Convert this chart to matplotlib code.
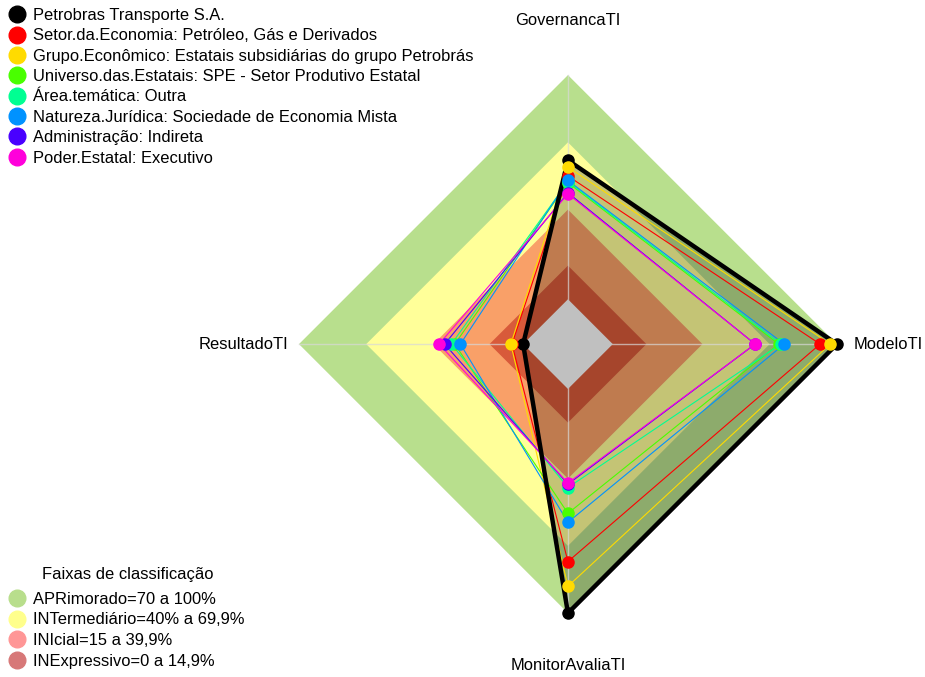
import numpy as np
import matplotlib
matplotlib.use("Agg")
import matplotlib.pyplot as plt
from matplotlib.lines import Line2D

plt.rcParams["font.family"] = ["Liberation Sans", "DejaVu Sans"]

# axes, clockwise from the top
categories = ["GovernancaTI", "ModeloTI", "MonitorAvaliaTI", "ResultadoTI"]

series_names = [
    "Petrobras Transporte S.A.",
    "Setor.da.Economia: Petróleo, Gás e Derivados",
    "Grupo.Econômico: Estatais subsidiárias do grupo Petrobrás",
    "Universo.das.Estatais: SPE - Setor Produtivo Estatal",
    "Área.temática: Outra",
    "Natureza.Jurídica: Sociedade de Economia Mista",
    "Administração: Indireta",
    "Poder.Estatal: Executivo",
]
series_colors = ["#000000", "#FF0000", "#FFDB00", "#49FF00",
                 "#00FF92", "#0092FF", "#4900FF", "#FF00DB"]

# values in %: Governanca, Modelo, MonitorAvalia, Resultado
petrobras_transporte = [62, 100, 100, 0]
setor_economia = [55, 92.5, 77, 5]
grupo_economico = [59, 97, 88, 5.5]
universo_estatais = [52, 74, 55.5, 30.5]
area_tematica = [52.5, 75, 44, 32]
natureza_juridica = [53, 76.5, 59.5, 28]
administracao = [47.5, 63.5, 42.5, 35]
poder_estatal = [47, 63.5, 42, 37.5]
series_values = [petrobras_transporte, setor_economia, grupo_economico,
                 universo_estatais, area_tematica, natureza_juridica,
                 administracao, poder_estatal]

# classification bands (upper limit in %)
band_limits = [100, 70, 40, 15]
band_fill = ["#B8DF8D", "#FFFF99", "#F9A068", "#D85A3A"]
band_legend_colors = ["#B8DE8C", "#FFFF8C", "#FF9696", "#D77878"]
band_labels = ["APRimorado=70 a 100%", "INTermediário=40% a 69,9%",
               "INIcial=15 a 39,9%", "INExpressivo=0 a 14,9%"]

AXIS_MIN = -20  # radar centre value
angles = np.deg2rad([90, 0, -90, 180])
FS = 11.9
W, H = 925, 677


def to_xy(vals):
    r = np.asarray(vals, dtype=float) - AXIS_MIN
    x = r * np.cos(angles)
    y = r * np.sin(angles)
    return np.append(x, x[0]), np.append(y, y[0])


fig = plt.figure(figsize=(9.25, 6.77), dpi=100)
ax = fig.add_axes([0, 0, 1, 1])
ax.set_xlim(-253.4, 159.3)
ax.set_ylim(-148.5, 153.5)
ax.axis("off")

for lim, col in zip(band_limits, band_fill):
    x, y = to_xy([lim] * 4)
    ax.fill(x, y, color=col, lw=0, zorder=1)

# black reference polygon is shaded, the others are outlines only
x, y = to_xy(petrobras_transporte)
ax.fill(x, y, color="black", alpha=0.23, lw=0, zorder=2)

rmax = 100 - AXIS_MIN
for a in angles:
    ax.plot([0, rmax * np.cos(a)], [0, rmax * np.sin(a)],
            color="#D8D8D8", alpha=0.7, lw=1, zorder=3)

x, y = to_xy([0] * 4)
ax.fill(x, y, color="#C0C0C0", lw=0, zorder=4)

for vals, col in zip(series_values[1:], series_colors[1:]):
    x, y = to_xy(vals)
    ax.plot(x, y, color=col, lw=0.8, zorder=5)

x, y = to_xy(petrobras_transporte)
ax.plot(x, y, color="black", lw=3.2, zorder=6)
ax.plot(x[:-1], y[:-1], "o", color="black", ms=8, zorder=6.5)

for vals, col in zip(series_values[1:], series_colors[1:]):
    x, y = to_xy(vals)
    ax.plot(x[:-1], y[:-1], "o", color=col, ms=8, zorder=7)

# axis labels
ax.text(0, rmax + 24.5, categories[0], ha="center", va="center", fontsize=FS)
ax.text(rmax + 7.6, 0, categories[1], ha="left", va="center", fontsize=FS)
ax.text(0, -rmax - 23.5, categories[2], ha="center", va="center", fontsize=FS)
ax.text(-rmax - 5, 0, categories[3], ha="right", va="center", fontsize=FS)

handles = [Line2D([], [], marker="o", ls="", color=c, ms=12) for c in series_colors]
fig.legend(handles, series_names, loc="upper left",
           bbox_to_anchor=(8.75 / W, 1 - 8.0 / H),
           frameon=False, fontsize=FS, borderpad=0, borderaxespad=0,
           handlelength=1.0, handletextpad=0.47, labelspacing=0.325)

fig.text(128 / W, 1 - 574 / H, "Faixas de classificação", ha="center",
         va="center", fontsize=FS)
band_handles = [Line2D([], [], marker="o", ls="", color=c, ms=12) for c in band_legend_colors]
fig.legend(band_handles, band_labels,
           loc="lower left", bbox_to_anchor=(8.75 / W, 1 - 669 / H), frameon=False,
           fontsize=FS, borderpad=0, borderaxespad=0,
           handlelength=1.0, handletextpad=0.47, labelspacing=0.35)

fig.savefig("out.png", dpi=100)
